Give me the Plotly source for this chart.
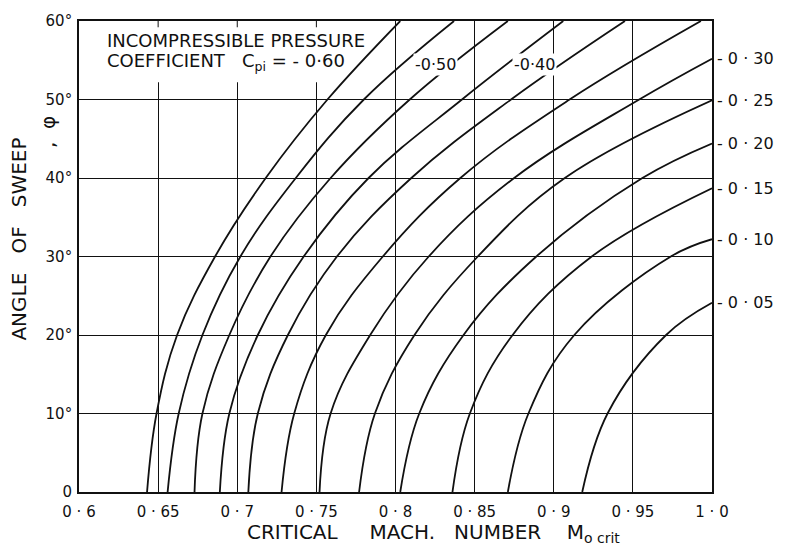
import plotly.graph_objects as go

# Incompressible pressure coefficient of each curve and its label text
cp_values = [-0.60, -0.55, -0.50, -0.45, -0.40, -0.35,
             -0.30, -0.25, -0.20, -0.15, -0.10, -0.05]
cp_text = ["-0·60", "-0·55", "-0·50", "-0·45", "-0·40", "-0·35",
           "-0·30", "-0·25", "-0·20", "-0·15", "-0·10", "-0·05"]
cp_edge_text = ["- 0 · 30", "- 0 · 25", "- 0 · 20",
                "- 0 · 15", "- 0 · 10", "- 0 · 05"]

# Sweep angle (deg) at which each curve is read
sweep_full = [0, 10, 20, 30, 40, 50, 60]
sweep_030 = [0, 10, 20, 30, 40, 50, 55.2]
sweep_025 = [0, 10, 20, 30, 40, 49.9]
sweep_020 = [0, 10, 20, 30, 40, 44.4]
sweep_015 = [0, 10, 20, 30, 38.7]
sweep_010 = [0, 10, 20, 30, 32.2]
sweep_005 = [0, 10, 20, 24.1]

# Critical Mach number along each curve
mach_060 = [0.643, 0.649, 0.662, 0.686, 0.718, 0.757, 0.803]
mach_055 = [0.656, 0.663, 0.678, 0.702, 0.737, 0.780, 0.837]
mach_050 = [0.673, 0.678, 0.695, 0.721, 0.759, 0.809, 0.871]
mach_045 = [0.689, 0.695, 0.713, 0.742, 0.783, 0.842, 0.906]
mach_040 = [0.707, 0.713, 0.732, 0.763, 0.810, 0.873, 0.945]
mach_035 = [0.728, 0.736, 0.756, 0.792, 0.841, 0.910, 0.993]
mach_030 = [0.752, 0.759, 0.784, 0.821, 0.875, 0.954, 1.000]
mach_025 = [0.777, 0.787, 0.812, 0.852, 0.907, 1.000]
mach_020 = [0.803, 0.815, 0.843, 0.889, 0.956, 1.000]
mach_015 = [0.836, 0.847, 0.874, 0.924, 1.000]
mach_010 = [0.871, 0.884, 0.913, 0.974, 1.000]
mach_005 = [0.918, 0.934, 0.971, 1.000]

curves = [
    (sweep_full, mach_060), (sweep_full, mach_055), (sweep_full, mach_050),
    (sweep_full, mach_045), (sweep_full, mach_040), (sweep_full, mach_035),
    (sweep_030, mach_030), (sweep_025, mach_025), (sweep_020, mach_020),
    (sweep_015, mach_015), (sweep_010, mach_010), (sweep_005, mach_005),
]

x_ticks = [0.6, 0.65, 0.7, 0.75, 0.8, 0.85, 0.9, 0.95, 1.0]
x_ticktext = ["0 · 6", "0 · 65", "0 · 7", "0 · 75", "0 · 8",
              "0 · 85", "0 · 9", "0 · 95", "1 · 0"]
y_ticks = [0, 10, 20, 30, 40, 50, 60]
y_ticktext = ["0", "10°", "20°", "30°", "40°", "50°", "60°"]

FONT = "DejaVu Sans"
INK = "#111111"

fig = go.Figure()
for (sw, m), name in zip(curves, cp_text):
    fig.add_trace(go.Scatter(
        x=m, y=sw, mode="lines", name=name,
        line=dict(color=INK, width=1.8, shape="spline", smoothing=1.1),
        hoverinfo="skip", showlegend=False,
    ))

annotations = []
# Curve labels beyond the right edge, at the sweep where each curve leaves the grid
edge_curves = [c for c, cp in zip(curves, cp_values) if cp >= -0.30]
for (sw, m), name in zip(edge_curves, cp_edge_text):
    annotations.append(dict(
        x=1.0, y=sw[-1], xref="x", yref="y", text=name,
        xanchor="left", yanchor="middle", xshift=3, showarrow=False,
        font=dict(family=FONT, size=16, color=INK),
    ))

# Inline labels on the -0.50 and -0.40 curves
for name, xm in [("-0·50", 0.8255), ("-0·40", 0.888)]:
    annotations.append(dict(
        x=xm, y=54.5, xref="x", yref="y", text=name, showarrow=False,
        bgcolor="white", borderpad=1,
        font=dict(family=FONT, size=16, color=INK),
    ))

# Legend text in the upper left
annotations.append(dict(
    x=0.6164, y=57.5, xref="x", yref="y", text="INCOMPRESSIBLE PRESSURE",
    xanchor="left", yanchor="middle", showarrow=False,
    font=dict(family=FONT, size=18, color=INK),
))
annotations.append(dict(
    x=0.6164, y=54.8, xref="x", yref="y",
    text="COEFFICIENT   C<sub>pi</sub> = - 0·60",
    xanchor="left", yanchor="middle", showarrow=False,
    font=dict(family=FONT, size=18, color=INK),
))

# Axis titles
annotations.append(dict(
    x=0.56, y=-0.087, xref="paper", yref="paper",
    text="CRITICAL     MACH.   NUMBER    M<sub>o crit</sub>",
    xanchor="center", yanchor="middle", showarrow=False,
    font=dict(family=FONT, size=20, color=INK),
))
annotations.append(dict(
    x=-0.094, y=0.537, xref="paper", yref="paper",
    text="ANGLE   OF   SWEEP", textangle=-90,
    xanchor="center", yanchor="middle", showarrow=False,
    font=dict(family=FONT, size=20, color=INK),
))
annotations.append(dict(
    x=-0.05, y=0.765, xref="paper", yref="paper",
    text=",  φ", textangle=-90,
    xanchor="center", yanchor="middle", showarrow=False,
    font=dict(family=FONT, size=20, color=INK),
))

# White panel behind the legend text, under the curves; the covered
# grid lines keep a short stub at the top border
panel_top, panel_bottom, panel_right = 60, 52.2, 0.78
shapes = [dict(
    type="rect", xref="x", yref="y", x0=0.6, x1=panel_right,
    y0=panel_bottom, y1=panel_top,
    fillcolor="white", line=dict(width=0), layer="between",
)]
for xt in x_ticks:
    if 0.6 < xt < panel_right:
        shapes.append(dict(
            type="line", xref="x", yref="y", x0=xt, x1=xt,
            y0=panel_top - 0.8, y1=panel_top,
            line=dict(color=INK, width=1), layer="between",
        ))

fig.update_layout(
    width=786, height=549,
    margin=dict(l=79, r=74, t=19, b=57),
    paper_bgcolor="white", plot_bgcolor="white",
    font=dict(family=FONT, size=15, color=INK),
    annotations=annotations, shapes=shapes,
    xaxis=dict(
        range=[0.6, 1.0], tickvals=x_ticks, ticktext=x_ticktext,
        showgrid=True, gridcolor=INK, gridwidth=1,
        showline=True, linecolor=INK, linewidth=1.7, mirror=True,
        ticks="", ticklabelstandoff=5, zeroline=False,
        tickfont=dict(family=FONT, size=15, color=INK),
    ),
    yaxis=dict(
        range=[0, 60], tickvals=y_ticks, ticktext=y_ticktext,
        showgrid=True, gridcolor=INK, gridwidth=1,
        showline=True, linecolor=INK, linewidth=1.7, mirror=True,
        ticks="", ticklabelstandoff=2, zeroline=False,
        tickfont=dict(family=FONT, size=15, color=INK),
    ),
)

fig.write_html("out.html")
